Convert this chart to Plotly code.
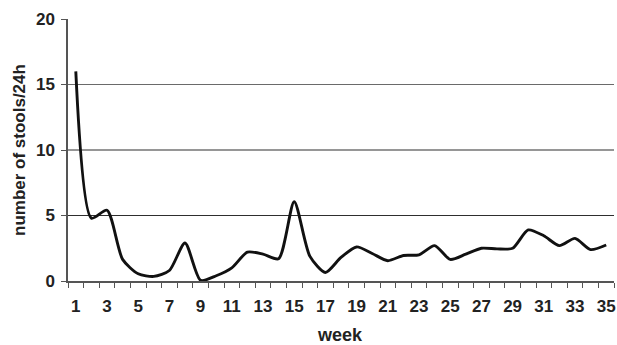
import plotly.graph_objects as go

weeks = list(range(1, 36))
stools = [16.0, 4.8, 5.4, 1.65, 0.55, 0.35, 0.8, 2.9, 0.05, 0.4,
          1.0, 2.2, 2.05, 1.7, 6.05, 1.9, 0.65, 1.8, 2.6, 2.1,
          1.55, 1.95, 2.0, 2.7, 1.65, 2.05, 2.5, 2.45, 2.5, 3.9,
          3.45, 2.7, 3.25, 2.4, 2.75]
x_tick_labels = [str(w) for w in range(1, 36, 2)]
y_ticks = [0, 5, 10, 15, 20]
grid_levels = [5, 10, 15]

fig = go.Figure()
fig.add_trace(go.Scatter(
    x=weeks, y=stools, mode="lines",
    line=dict(color="#111111", width=2.9, shape="spline", smoothing=0.7),
    hoverinfo="skip", showlegend=False,
))

for g in grid_levels:
    fig.add_shape(type="line", xref="paper", yref="y", x0=0, x1=1, y0=g, y1=g,
                  line=dict(color="#2e2e2e" if g != 15 else "#6a6a6a", width=1.2),
                  layer="below")

font_family = "Liberation Sans, Arial, sans-serif"

plot_w = 546
plot_h = 262
fig.add_annotation(text="<b>number of stools/24h</b>", xref="paper", yref="paper",
                   x=(19 - 68) / plot_w, y=0.5, xanchor="center", yanchor="middle",
                   textangle=-90, showarrow=False,
                   font=dict(size=17, family=font_family, color="#222222"))
fig.add_annotation(text="<b>week</b>", xref="paper", yref="paper",
                   x=(340 - 68) / plot_w, y=(281 - 335) / plot_h,
                   xanchor="center", yanchor="middle", showarrow=False,
                   font=dict(size=18, family=font_family, color="#222222"))

fig.update_layout(
    width=617, height=345,
    margin=dict(l=68, r=3, t=19, b=64),
    paper_bgcolor="white", plot_bgcolor="white",
    font=dict(family=font_family, color="#222222"),
    xaxis=dict(
        range=[0.5, 35.5],
        automargin=False,
        tickmode="array",
        tickvals=list(range(1, 36, 2)),
        ticktext=x_tick_labels,
        ticks="",
        ticklabelstandoff=9,
        tickfont=dict(size=17, family=font_family, weight="bold"),
        showline=True, linecolor="#555555", linewidth=1.5,
        showgrid=False, zeroline=False,
        minor=dict(tickmode="linear", tick0=0.5, dtick=1, ticks="outside",
                   ticklen=5, tickcolor="#555555", tickwidth=1, showgrid=False),
    ),
    yaxis=dict(
        range=[0, 20],
        automargin=False,
        tickmode="array", tickvals=y_ticks,
        ticks="outside", ticklen=5, tickcolor="#555555", tickwidth=1,
        ticklabelstandoff=3,
        tickfont=dict(size=17, family=font_family, weight="bold"),
        showline=True, linecolor="#555555", linewidth=1.5,
        showgrid=False, zeroline=False,
    ),
)

fig.write_html("out.html",
               config={"displayModeBar": False},
               post_script="document.body.style.margin='0px';document.body.style.overflow='hidden';")
